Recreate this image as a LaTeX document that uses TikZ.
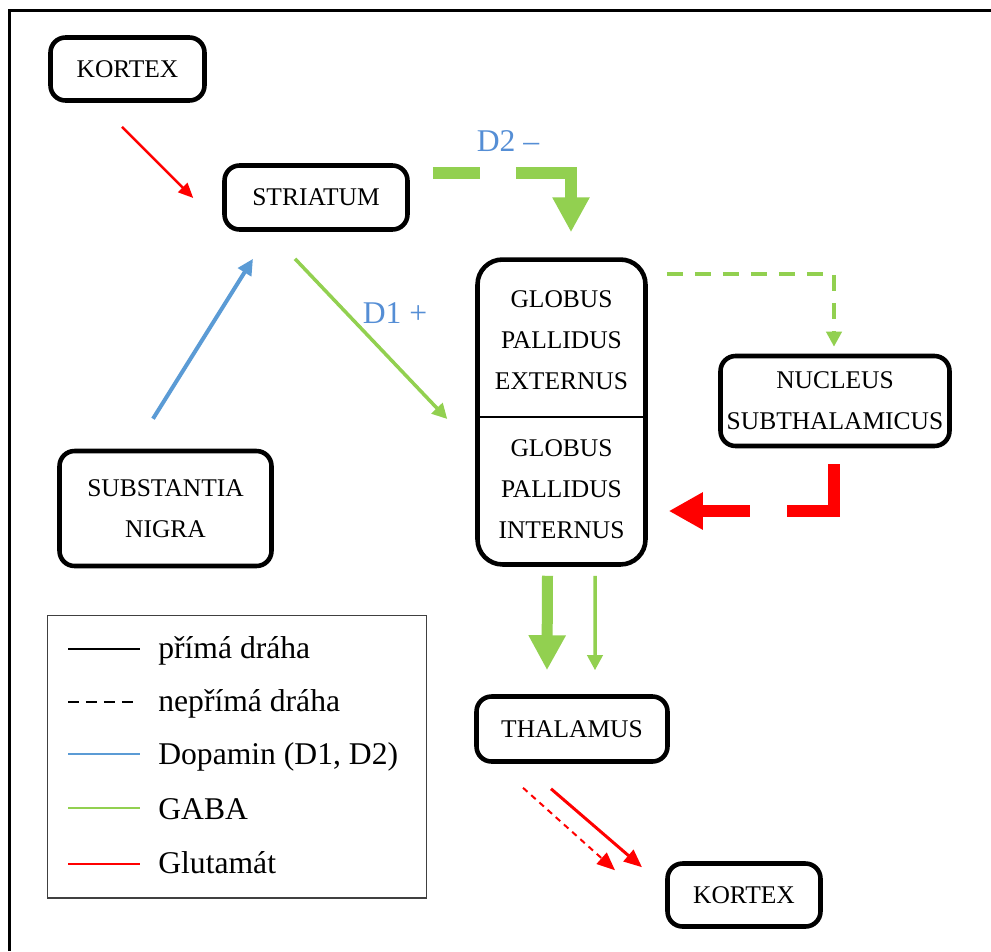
\documentclass[tikz,border=0pt]{standalone}
\usepackage{fontspec}
\setmainfont{Liberation Serif}
\usetikzlibrary{arrows.meta,calc}

\definecolor{gabagreen}{RGB}{146,208,80}
\definecolor{dopablue}{RGB}{91,155,213}
\definecolor{lblblue}{RGB}{85,142,213}

\begin{document}
\begin{tikzpicture}[x=0.02cm, y=-0.02cm,
    box/.style = {draw, line width=2.6pt, rounded corners=0.3cm, inner sep=0pt, align=center, font=\fontsize{14.5}{23.2}\selectfont},
    boxtext/.style = {align=center, font=\fontsize{14.5}{23.2}\selectfont},
    lbl/.style = {text=lblblue, font=\fontsize{18}{22}\selectfont},
    key/.style = {anchor=base west, inner sep=0pt, font=\fontsize{18}{22}\selectfont},
    glu/.style = {draw=red, line width=0.05cm, -{Triangle[length=0.3cm,width=0.26cm]}},
    glubig/.style = {draw=red, line width=0.24cm, -{Triangle[length=0.68cm,width=0.7cm]}},
    gaba/.style = {draw=gabagreen, line width=0.07cm, -{Triangle[length=0.3cm,width=0.3cm]}},
    gababig/.style = {draw=gabagreen, line width=0.23cm, -{Triangle[length=0.7cm,width=0.7cm]}},
    dopa/.style = {draw=dopablue, line width=0.08cm, -{Triangle[length=0.32cm,width=0.3cm]}}]

    \useasboundingbox (0,0) rectangle (991,951);
    \draw[line width=0.06cm] (9.5,951) |- (991,10);

    % nodes
    \node[box, minimum width=3.08cm, minimum height=1.26cm, text height=2.1ex] (kortex1) at (127.5,69) {KORTEX};
    \node[box, minimum width=3.66cm, minimum height=1.28cm, text height=2.1ex] (striatum) at (316,197.5) {STRIATUM};
    \node[box, rounded corners=0.5cm, minimum width=3.36cm, minimum height=6.1cm] (gp) at (561.5,412) {};
    \node[boxtext] (gpe) at (561.5,340) {GLOBUS\\PALLIDUS\\EXTERNUS};
    \node[boxtext] (gpi) at (561.5,489) {GLOBUS\\PALLIDUS\\INTERNUS};
    \draw[line width=0.8pt] ($(gp.west)+(0,5)$) -- ($(gp.east)+(0,5)$);
    \node[box, minimum width=4.58cm, minimum height=1.8cm] (stn) at (835,401) {NUCLEUS\\SUBTHALAMICUS};
    \node[box, minimum width=4.24cm, minimum height=2.3cm] (sn) at (165.5,508.5) {SUBSTANTIA\\NIGRA};
    \node[box, minimum width=3.82cm, minimum height=1.3cm, text height=2.1ex] (thalamus) at (572,729) {THALAMUS};
    \node[box, minimum width=3.06cm, minimum height=1.26cm, text height=2.1ex] (kortex2) at (744,895) {KORTEX};

    % connectors
    \draw[glu] ($(kortex1.south)+(-5.5,24)$) -- ($(striatum.west)+(-29,0.5)$);
    \draw[dopa] ($(sn.north)+(-12.5,-30)$) -- ($(striatum.south)+(-63,27)$);
    \draw[gaba] ($(striatum.south)+(-21,27)$) -- ($(gp.west)+(-28,7)$);
    \node[lbl] (d1) at (395,313) {D1 +};
    \draw[gababig, dash pattern=on 0.94cm off 0.72cm on 4cm] ($(striatum.east)+(23,-24.5)$) -| ($(gp.north)+(9.5,-25)$);
    \node[lbl] (d2) at (508,141) {D2 --};
    \draw[gaba, line width=0.08cm, dash pattern=on 0.32cm off 0.24cm] ($(gp.north east)+(19,17)$) -| ($(stn.north)+(-1,-7)$);
    \draw[glubig, dash pattern=on 1.88cm off 0.74cm on 4cm] ($(stn.south)+(-1,16)$) |- ($(gp.east)+(21,99)$);
    \draw[gababig, line width=0.22cm] ($(gp.south)+(-14,9)$) -- ($(thalamus.north)+(-25,-24)$);
    \draw[gaba] ($(gp.south)+(33.5,9)$) -- ($(thalamus.north)+(23,-24)$);
    \draw[glu, line width=0.06cm, -{Triangle[length=0.36cm,width=0.3cm]}] ($(thalamus.south)+(-21,25)$) -- ($(kortex2.north)+(-102,6)$);
    \draw[glu, line width=0.04cm, dash pattern=on 0.12cm off 0.1cm, -{Triangle[length=0.36cm,width=0.3cm]}] ($(thalamus.south)+(-49,24)$) -- ($(kortex2.north)+(-129,9)$);

    % legend
    \node[draw=black!75, line width=0.6pt, minimum width=7.6cm, minimum height=5.66cm, inner sep=0pt] (legend) at (237,756.5) {};
    \coordinate (k1) at (68,649);
    \coordinate (k2) at (68,702);
    \coordinate (k3) at (68,754);
    \coordinate (k4) at (68,808);
    \coordinate (k5) at (68,864);
    \draw[line width=0.05cm] (k1) -- ++(72,0);
    \draw[line width=0.05cm, dash pattern=on 0.22cm off 0.14cm] (k2) -- ++(70,0);
    \draw[dopablue, line width=0.05cm] (k3) -- ++(72,0);
    \draw[gabagreen, line width=0.05cm] (k4) -- ++(72,0);
    \draw[red, line width=0.05cm] (k5) -- ++(72,0);
    \node[key] (t1) at ($(k1)+(90,9)$) {přímá dráha};
    \node[key] (t2) at ($(k2)+(90,9)$) {nepřímá dráha};
    \node[key] (t3) at ($(k3)+(90,10)$) {Dopamin (D1, D2)};
    \node[key] (t4) at ($(k4)+(90,11)$) {GABA};
    \node[key] (t5) at ($(k5)+(90,9)$) {Glutamát};
\end{tikzpicture}
\end{document}
